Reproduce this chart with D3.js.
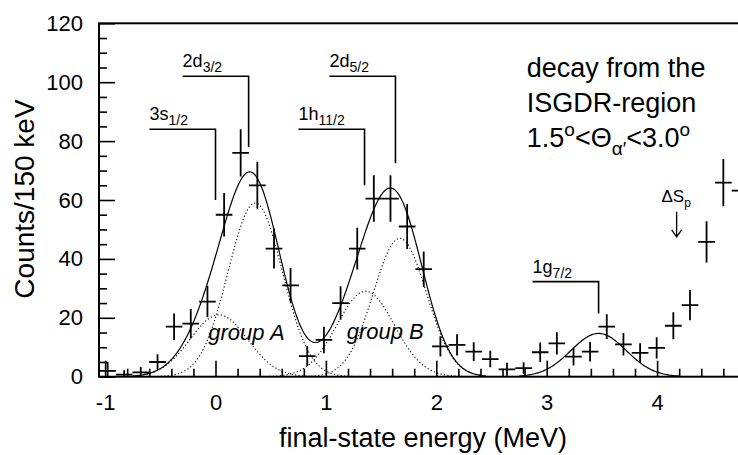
<!DOCTYPE html>
<html>
<head>
<meta charset="utf-8">
<script src="https://cdn.jsdelivr.net/npm/d3@7"></script>
<style>
  body { margin: 0; background: #fff; }
  svg { display: block; font-family: "Liberation Sans", Arial, Helvetica, sans-serif; }
</style>
</head>
<body>
<svg id="chart" width="738" height="455"></svg>
<script>
// spectrum, 150 keV bins (bin centre in MeV, counts, error)
const energy = [-0.977, -0.827, -0.677, -0.525, -0.375, -0.224, -0.073, 0.078, 0.228, 0.379,
  0.530, 0.680, 0.831, 0.982, 1.133, 1.284, 1.434, 1.585, 1.736, 1.886,
  2.037, 2.188, 2.339, 2.489, 2.640, 2.791, 2.941, 3.092, 3.243, 3.393,
  3.544, 3.695, 3.846, 3.996, 4.147, 4.298, 4.448, 4.600, 4.751];
const counts = [2, 0.7, 1.5, 5, 17, 18, 25.5, 55, 76, 65,
  43.5, 31, 7, 12.5, 25, 43.5, 60.5, 60.5, 51, 36.5,
  10.3, 10.8, 8.5, 6, 2.5, 2.9, 8.3, 11.3, 6.8, 8.5,
  17, 11, 8.1, 9.8, 17.3, 24.3, 45.8, 65.9, 63.2];
const errors = [3, 1.5, 1.8, 2.6, 4.5, 5, 5.3, 7.4, 8, 8,
  6.8, 5.9, 3.4, 4.5, 5.7, 7.1, 7.9, 7.9, 7.6, 6,
  3.4, 3.6, 3.2, 2.8, 2.2, 2, 3.3, 3.8, 3, 3.3,
  4.2, 3.8, 3.3, 3.6, 4.6, 5.1, 7, 8, 8];
const binHalf = 0.0754;

// gaussian components of group A and group B
const compCentre = [0.03, 0.36, 1.36, 1.67];
const compHeight = [21, 59, 29, 47];
const compSigma = [0.26, 0.245, 0.26, 0.24];
// 1g7/2 peak
const gCentre = 3.47, gHeight = 14.7, gSigma = 0.25;

// single-particle levels
const levelName = ["3s", "2d", "1h", "2d", "1g"];
const levelSub = ["1/2", "3/2", "11/2", "5/2", "7/2"];
const levelEnergy = [0.0, 0.30, 1.35, 1.63, 3.47];
const levelTop = [84, 102, 84, 102, 32.3];
const levelBottom = [60, 78, 65, 72.5, 21.5];

const xTicks = [-1, 0, 1, 2, 3, 4];
const yTicks = [0, 20, 40, 60, 80, 100, 120];

const svg = d3.select("#chart");
const left = 99, right = 745;

const x = d3.scaleLinear().domain([-1, 4]).range([105.1, 657.1]);
const y = d3.scaleLinear().domain([0, 120]).range([376.7, 23.3]);

svg.append("defs").append("clipPath").attr("id", "plot")
  .append("rect")
  .attr("x", left).attr("y", y(120))
  .attr("width", right - left).attr("height", y(0) - y(120));

// axes, ticks inside the frame
const xMinor = d3.range(-1, 4.8, 0.2).filter(v => Math.abs(v - Math.round(v)) > 0.01);
const yMinor = d3.range(0, 120, 5).filter(v => v % 20 !== 0);

svg.append("g").attr("transform", "translate(0," + y(0) + ")")
  .call(d3.axisBottom(x).tickValues(xMinor).tickSize(-8).tickFormat(""));
const gx = svg.append("g").attr("transform", "translate(0," + y(0) + ")")
  .call(d3.axisBottom(x).tickValues(xTicks).tickSize(-16).tickPadding(18).tickFormat(d => String(d)));

svg.append("g").attr("transform", "translate(" + left + ",0)")
  .call(d3.axisLeft(y).tickValues(yMinor).tickSize(-8).tickFormat(""));
const gy = svg.append("g").attr("transform", "translate(" + left + ",0)")
  .call(d3.axisLeft(y).tickValues(yTicks).tickSize(-16).tickPadding(16));

svg.selectAll(".domain").remove();
svg.selectAll(".tick line").attr("stroke", "#000").attr("stroke-width", 1.6);
gx.selectAll("text").attr("font-size", 22).attr("fill", "#000").attr("font-family", null);
gy.selectAll("text").attr("font-size", 22).attr("fill", "#000").attr("font-family", null);

svg.append("rect")
  .attr("x", left).attr("y", y(120))
  .attr("width", right - left).attr("height", y(0) - y(120))
  .attr("fill", "none").attr("stroke", "#000").attr("stroke-width", 2);

// axis titles
svg.append("text")
  .attr("x", 423).attr("y", 447)
  .attr("text-anchor", "middle").attr("font-size", 27)
  .text("final-state energy (MeV)");
svg.append("text")
  .attr("transform", "translate(34,199) rotate(-90)")
  .attr("text-anchor", "middle").attr("font-size", 28)
  .text("Counts/150 keV");

const plot = svg.append("g").attr("clip-path", "url(#plot)");

// fit curves
const gauss = (e, c, h, s) => h * Math.exp(-(e - c) * (e - c) / (2 * s * s));
const line = d3.line().x(d => x(d[0])).y(d => y(d[1]));
const gridAB = d3.range(-0.75, 2.451, 0.01);
const gridG = d3.range(2.75, 4.201, 0.01);

compCentre.forEach((c, i) => {
  plot.append("path")
    .attr("d", line(gridAB.map(e => [e, gauss(e, c, compHeight[i], compSigma[i])])))
    .attr("fill", "none").attr("stroke", "#000").attr("stroke-width", 1.1)
    .attr("stroke-dasharray", "1.2,2.3");
});

plot.append("path")
  .attr("d", line(gridAB.map(e => [e, d3.sum(compCentre, (c, i) => gauss(e, c, compHeight[i], compSigma[i]))])))
  .attr("fill", "none").attr("stroke", "#000").attr("stroke-width", 1.2);

plot.append("path")
  .attr("d", line(gridG.map(e => [e, gauss(e, gCentre, gHeight, gSigma)])))
  .attr("fill", "none").attr("stroke", "#000").attr("stroke-width", 1.2);

// data points with error bars
const pts = plot.selectAll("g.pt").data(energy).enter().append("g").attr("class", "pt");
pts.append("line")
  .attr("x1", d => x(d - binHalf)).attr("x2", d => x(d + binHalf))
  .attr("y1", (d, i) => y(counts[i])).attr("y2", (d, i) => y(counts[i]));
pts.append("line")
  .attr("x1", d => x(d)).attr("x2", d => x(d))
  .attr("y1", (d, i) => y(Math.max(0, counts[i] - errors[i])))
  .attr("y2", (d, i) => y(counts[i] + errors[i]));
pts.selectAll("line").attr("stroke", "#000").attr("stroke-width", 1.8);

// level markers
levelName.forEach((n, i) => {
  const x0 = x(levelEnergy[i] - 0.598);
  svg.append("path")
    .attr("d", "M" + x0 + "," + y(levelTop[i]) + "H" + x(levelEnergy[i]) + "V" + y(levelBottom[i]))
    .attr("fill", "none").attr("stroke", "#000").attr("stroke-width", 1.6);
  const t = svg.append("text")
    .attr("x", x0).attr("y", y(levelTop[i]) - 9)
    .attr("font-size", 18);
  t.append("tspan").text(n);
  t.append("tspan").attr("font-size", 14).attr("dy", 5).text(levelSub[i]);
});

// group labels
svg.append("text").attr("x", x(-0.065)).attr("y", y(12.5))
  .attr("font-size", 22).attr("font-style", "italic").text("group A");
svg.append("text").attr("x", x(1.188)).attr("y", y(12.8))
  .attr("font-size", 22).attr("font-style", "italic").text("group B");

// angle-cut annotation
const note = svg.append("g").attr("font-size", 27);
note.append("text").attr("x", x(2.82)).attr("y", y(101.8)).text("decay from the");
note.append("text").attr("x", x(2.82)).attr("y", y(90)).text("ISGDR-region");
const n3 = note.append("text").attr("x", x(2.82)).attr("y", y(78.1));
n3.append("tspan").text("1.5");
n3.append("tspan").attr("font-size", 19).attr("dy", -11).text("o");
n3.append("tspan").attr("dy", 11).text("<Θ");
n3.append("tspan").attr("font-size", 19).attr("dy", 8).text("α′");
n3.append("tspan").attr("dy", -8).text("<3.0");
n3.append("tspan").attr("font-size", 19).attr("dy", -11).text("o");

// separation energy marker
const ds = svg.append("text").attr("x", x(4.04)).attr("y", y(59.4)).attr("font-size", 17);
ds.append("tspan").text("ΔS");
ds.append("tspan").attr("font-size", 12).attr("dy", 5).text("p");
const ax = x(4.177);
svg.append("path")
  .attr("d", "M" + ax + "," + y(56) + "V" + y(47.5) +
    "M" + (ax - 5) + "," + (y(47.5) - 7) + "L" + ax + "," + y(47.5) + "L" + (ax + 5) + "," + (y(47.5) - 7))
  .attr("fill", "none").attr("stroke", "#000").attr("stroke-width", 1.3);
</script>
</body>
</html>
